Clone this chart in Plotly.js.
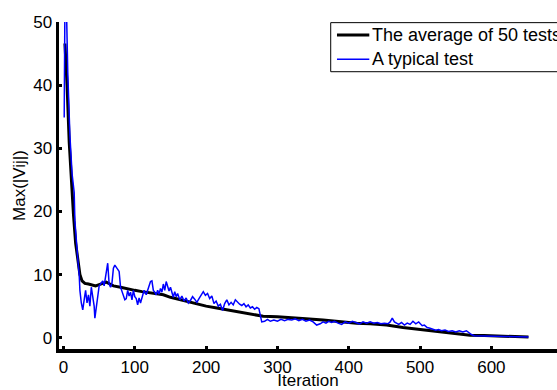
<!DOCTYPE html>
<html>
<head>
<meta charset="utf-8">
<script src="https://cdn.plot.ly/plotly-3.0.1.min.js"></script>
<style>html,body{margin:0;padding:0;background:#fff;}#chart{width:557px;height:390px;}</style>
</head>
<body>
<div id="chart"></div>
<script>
// Average of 50 tests
const avgIter = [2,5,8,11,14,17,20,23,26,30,35,40,45,50,55,60,65,70,80,90,100,110,120,130,140,150,160,170,180,190,200,215,230,247,265,280,300,320,340,364,380,411,430,453,476,500,520,546,570,590,617,652];
const avgVal  = [46.6,40,31,24.5,19.5,15,12,10,9,8.6,8.5,8.3,8.2,8.4,8.6,8.8,8.5,8.2,8.0,7.7,7.5,7.3,7.1,7.0,6.8,6.4,6.1,5.8,5.5,5.3,5.0,4.7,4.4,4.1,3.7,3.4,3.3,3.2,3.0,2.8,2.6,2.3,2.2,2.0,1.6,1.3,1.0,0.7,0.4,0.35,0.27,0.1];

// A typical test
const typIter = [0,1,2,4,6,9,12,14,15,16,18,20,22,23,25,27,29,31,33,35,37,39,41,43,44,46,48,50,52,55,57,59,62,64,66,68,70,72,75,78,80,82,84,86,88,90,92,94,96,98,100,102,104,106,108,110,113,116,119,122,124,126,128,130,132,134,136,138,140,142,144,146,148,150,152,154,156,158,160,163,166,169,172,175,178,181,184,187,190,193,196,199,202,205,208,211,214,217,220,223,226,229,232,235,238,241,244,247,250,253,256,259,262,265,268,271,274,276,278,282,286,290,295,300,305,310,315,320,325,330,335,340,345,350,355,360,364,368,372,376,380,385,390,395,400,405,410,415,420,425,430,435,440,445,450,455,458,461,464,467,470,474,478,482,486,490,494,498,500,503,506,510,514,518,522,526,530,535,540,545,550,555,560,565,568,572,576,590,600,620,652];
const typVal  = [35,35,53,53,42,32,26,23.5,23,18.5,15,12.5,10,7.5,5.5,4.4,6,7.5,5.5,6.8,5,8,6.5,5,3.1,5,7,8.2,8.5,9,8.2,9.8,11.8,8.5,8,8.7,11,11.5,11,10.5,8,7.2,6.5,6,6.2,7.5,6.6,7.2,6,7.5,6.5,6.2,5.2,6.3,5.5,6.2,7.5,6.8,8,8.9,9,7.5,7.2,6.8,7.5,6.9,7.8,7.2,8.5,7.5,8.9,8.2,7.4,8,7.2,6.4,7.3,6.5,7,6,6.6,5.8,6.3,5.5,5.9,6.5,6.1,5.6,6.2,6.8,7.3,6.7,7,6.2,6.6,5.4,5.8,5,5.3,4.3,5.4,6,5.2,5.6,5.2,6,5.6,5.3,5.1,5.4,4.9,5.2,4.7,4.9,4.5,4.8,4.6,3.5,2.5,2.6,2.9,2.6,2.8,2.6,2.9,2.7,2.9,2.8,3.0,2.7,2.9,2.6,2.8,2.5,2.0,2.2,2.5,2.3,2.6,2.4,2.6,2.3,2.1,2.5,2.3,2.6,2.4,2.2,2.5,2.3,2.5,2.3,2.4,2.2,2.3,2.2,2.5,3.1,2.5,2.3,2.1,2.4,2.0,2.3,2.1,2.6,2.2,2.5,2.3,1.9,2.0,1.6,1.5,1.3,1.2,1.3,1.1,1.2,1.0,1.1,0.9,1.1,0.9,1.1,0.8,0.5,0.3,0.3,0.25,0.2,0.1];

const seriesNames = ['The average of 50 tests', 'A typical test'];
const seriesColors = ['#000000', '#0000ff'];
const seriesWidths = [3, 1.5];

const xTicks = [0,100,200,300,400,500,600];
const yTicks = [0,10,20,30,40,50];

const FONT = 'Liberation Sans, Arial, sans-serif';

const traces = [
  {x: avgIter, y: avgVal, type: 'scatter', mode: 'lines', name: seriesNames[0],
   line: {color: seriesColors[0], width: seriesWidths[0]}, showlegend: false},
  {x: typIter, y: typVal, type: 'scatter', mode: 'lines', name: seriesNames[1],
   line: {color: seriesColors[1], width: seriesWidths[1]}, showlegend: false}
];

// Legend drawn in paper coordinates (box runs past the right edge, as in the reference)
const legX0 = 0.5456, legX1 = 1.08, legY0 = 0.848, legY1 = 0.998;
const sampleX0 = 0.5582, sampleX1 = 0.6231, textX = 0.6255;
const rowY = [0.9602, 0.8859];

const shapes = [
  {type: 'rect', xref: 'paper', yref: 'paper', x0: legX0, x1: legX1, y0: legY0, y1: legY1,
   fillcolor: '#ffffff', line: {color: '#000000', width: 1}, layer: 'above'}
];
const annotations = [];
seriesNames.forEach((nm, i) => {
  shapes.push({type: 'line', xref: 'paper', yref: 'paper', x0: sampleX0, x1: sampleX1, y0: rowY[i], y1: rowY[i],
    line: {color: seriesColors[i], width: seriesWidths[i]}, layer: 'above'});
  annotations.push({xref: 'paper', yref: 'paper', x: textX, y: rowY[i], xanchor: 'left', yanchor: 'middle',
    text: nm, showarrow: false, font: {family: FONT, size: 18, color: '#000000'}});
});

const layout = {
  width: 557, height: 390,
  margin: {l: 59, r: 0, t: 22, b: 41, pad: 0, autoexpand: false},
  paper_bgcolor: '#ffffff', plot_bgcolor: '#ffffff',
  font: {family: FONT, color: '#000000', size: 17},
  showlegend: false,
  shapes: shapes,
  annotations: annotations,
  xaxis: {
    range: [-6.3, 692], showgrid: false, zeroline: false,
    showline: true, linecolor: '#000000', linewidth: 3.5,
    ticks: 'inside', ticklen: 3, tickwidth: 3, tickcolor: '#000000',
    tickvals: xTicks, ticktext: xTicks.map(String),
    tickfont: {family: FONT, size: 17, color: '#000000'},
    title: {text: 'Iteration', font: {family: FONT, size: 17, color: '#000000'}, standoff: 3}
  },
  yaxis: {
    range: [-1.79, 50], showgrid: false, zeroline: false,
    showline: true, linecolor: '#000000', linewidth: 3.5,
    ticks: 'inside', ticklen: 3, tickwidth: 3, tickcolor: '#000000',
    tickvals: yTicks, ticktext: yTicks.map(String),
    tickfont: {family: FONT, size: 17, color: '#000000'},
    title: {text: 'Max(|Vij|)', font: {family: FONT, size: 17, color: '#000000'}, standoff: 4}
  }
};

Plotly.newPlot('chart', traces, layout, {staticPlot: true, displayModeBar: false});
</script>
</body>
</html>
